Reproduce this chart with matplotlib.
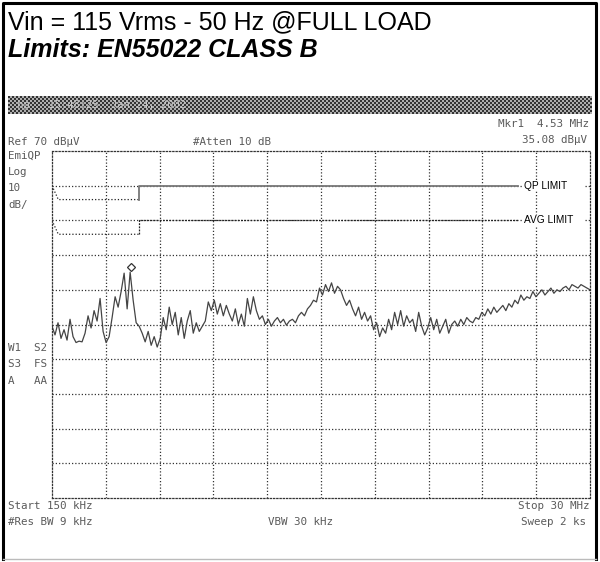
import numpy as np
import matplotlib.pyplot as plt
from matplotlib import transforms
from matplotlib.patches import Rectangle

# sweep settings (linear frequency axis, MHz)
f_start, f_stop = 0.15, 30.0
ref_level = 70
db_per_div = 10

# measured trace, dBuV, equally spaced sweep points
trace_db = [
    19.5, 17.0, 20.5, 16.0, 18.5, 15.5, 21.5, 16.5, 14.8, 15.2,
    15.0, 17.5, 22.5, 19.0, 24.0, 21.0, 27.5, 18.0, 14.8, 16.5,
    22.0, 28.0, 25.0, 29.5, 34.8, 24.5, 35.08, 27.0, 20.5, 19.5,
    17.5, 15.0, 18.0, 14.0, 16.5, 13.5, 16.0, 22.0, 18.5, 25.0,
    20.0, 23.5, 17.0, 22.0, 16.0, 21.0, 24.0, 17.5, 20.5, 18.0,
    19.5, 21.0, 26.5, 24.0, 27.0, 23.0, 26.0, 22.5, 25.5, 23.0,
    21.0, 24.5, 20.0, 23.0, 19.5, 27.5, 23.0, 28.0, 24.0, 21.5,
    22.5, 20.0, 21.5, 19.5, 21.0, 22.0, 20.5, 21.5, 19.8, 21.0,
    21.5, 20.5, 22.5, 23.5, 22.5, 24.5, 25.5, 27.0, 26.5, 30.5,
    28.5, 31.5, 29.5, 32.0, 29.0, 31.0, 30.0, 27.5, 25.5, 27.0,
    24.5, 22.5, 25.0, 21.5, 23.5, 21.0, 22.5, 18.5, 20.5, 16.5,
    19.0, 17.5, 21.5, 18.5, 23.5, 20.0, 24.0, 19.5, 22.5, 20.5,
    21.5, 18.0, 23.5, 19.5, 17.0, 19.0, 22.0, 18.5, 21.5, 17.5,
    19.5, 21.5, 17.5, 20.0, 21.0, 19.5, 21.5, 20.0, 22.0, 21.0,
    20.5, 22.0, 21.5, 23.5, 22.5, 24.5, 23.0, 25.0, 23.5, 24.5,
    25.5, 24.0, 26.0, 25.0, 27.0, 26.0, 28.5, 27.0, 28.0, 27.5,
    29.5, 28.0, 29.0, 30.0, 28.5, 29.5, 30.5, 29.0, 30.0, 29.5,
    30.5, 31.0, 30.0, 31.5, 31.0, 30.5, 31.5, 31.0, 30.5, 30.0,
]
trace_freq = np.linspace(f_start, f_stop, len(trace_db))

# EN55022 class B limit lines as shown on the display
qp_low_f = [0.15, 0.5, 5.0]
qp_low_db = [60, 56, 56]
qp_high_f = [5.0, 5.0, 26.0]
qp_high_db = [56, 60, 60]
avg_low_f = [0.15, 0.5, 5.0]
avg_low_db = [50, 46, 46]
avg_high_f = [5.0, 5.0, 26.0]
avg_high_db = [46, 50, 50]

marker_f = 4.53
marker_db = 35.08

W, H = 600, 562
fig = plt.figure(figsize=(W / 100, H / 100), dpi=100)

# full-figure overlay in pixel coordinates for border and texts
bg = fig.add_axes([0, 0, 1, 1])
bg.set_xlim(0, W)
bg.set_ylim(H, 0)
bg.axis('off')

bg.plot([3, 3, 596, 596], [559, 3, 3, 559], color='black', lw=2.2)
bg.plot([3, 596], [559, 559], color='#bbbbbb', lw=1)

bg.text(8, 22, 'Vin = 115 Vrms - 50 Hz @FULL LOAD', family='Liberation Sans',
        fontsize=18, va='center', ha='left')
bg.text(8, 50, 'Limits: EN55022 CLASS B', family='Liberation Sans',
        fontsize=18, fontweight='bold', fontstyle='italic', va='center', ha='left')

# dithered header bar of the analyzer screen
bar = fig.add_axes([8 / W, 1 - 114 / H, 584 / W, 18 / H])
ii, jj = np.indices((9, 292))
pattern = np.where((ii + jj) % 2 == 0, 0.2, 0.68)
bar.imshow(pattern, cmap='gray', vmin=0, vmax=1, aspect='auto', interpolation='nearest')
bar.axis('off')
bar.text(0.005, 0.5, ' hp   15:48:25  Jan 24, 2002', transform=bar.transAxes,
         family='DejaVu Sans Mono', fontsize=7.5, color='#c8c8c8', va='center')

mono = dict(family='DejaVu Sans Mono', fontsize=7.8, color='#5a5a5a', va='center')
bg.text(8, 142, 'Ref 70 dB\u00b5V', ha='left', **mono)
bg.text(193, 142, '#Atten 10 dB', ha='left', **mono)
bg.text(589, 124, 'Mkr1  4.53 MHz', ha='right', **mono)
bg.text(587, 140, '35.08 dB\u00b5V', ha='right', **mono)
for y, s in [(156, 'EmiQP'), (172, 'Log'), (188, '10'), (205, 'dB/'),
             (348, 'W1  S2'), (364, 'S3  FS'), (381, 'A   AA')]:
    bg.text(8, y, s, ha='left', **mono)
bg.text(8, 506, 'Start 150 kHz', ha='left', **mono)
bg.text(8, 522, '#Res BW 9 kHz', ha='left', **mono)
bg.text(300, 522, 'VBW 30 kHz', ha='center', **mono)
bg.text(589, 506, 'Stop 30 MHz', ha='right', **mono)
bg.text(586, 522, 'Sweep 2 ks', ha='right', **mono)

# analyzer graticule
ax = fig.add_axes([52 / W, 1 - 498 / H, 538 / W, 347 / H])
ax.set_xlim(f_start, f_stop)
ax.set_ylim(ref_level - 10 * db_per_div, ref_level)
ax.set_xticks([])
ax.set_yticks([])
ax.patch.set_alpha(0)
dots = (0, (1, 1.6))
for sp in ax.spines.values():
    sp.set_linestyle(dots)
    sp.set_linewidth(0.9)
    sp.set_color('#333333')
for xv in np.linspace(f_start, f_stop, 11)[1:-1]:
    ax.axvline(xv, color='#333333', lw=0.9, ls=dots)
for yv in range(ref_level - 90, ref_level, db_per_div):
    ax.axhline(yv, color='#333333', lw=0.9, ls=dots)

# limit lines, with their labels blanking the graticule to the right edge
ax.plot(qp_low_f, qp_low_db, color='#222222', lw=0.9, ls=dots)
ax.plot(qp_high_f, qp_high_db, color='#777777', lw=1.3)
ax.plot(avg_low_f, avg_low_db, color='#222222', lw=0.9, ls=dots)
ax.plot(avg_high_f, avg_high_db, color='#222222', lw=0.9, ls=(0, (1.5, 1)))
lbl = dict(family='Liberation Sans', fontsize=7.3, va='center', ha='left', zorder=4)
for level, name in [(qp_high_db[-1], 'QP LIMIT'), (avg_high_db[-1], 'AVG LIMIT')]:
    ax.add_patch(Rectangle((26.2, level - 1.6), 3.55, 3.2, fc='white', ec='none', zorder=3))
    ax.text(26.35, level, name, **lbl)

# trace and marker
ax.plot(trace_freq, trace_db, color='#444444', lw=0.9)
mk_tr = transforms.offset_copy(ax.transData, fig=fig, x=0, y=4, units='points')
ax.plot([marker_f], [marker_db], marker='D', ms=4, mfc='white', mec='#333333',
        mew=0.9, transform=mk_tr)

fig.savefig('out.png', dpi=100)
